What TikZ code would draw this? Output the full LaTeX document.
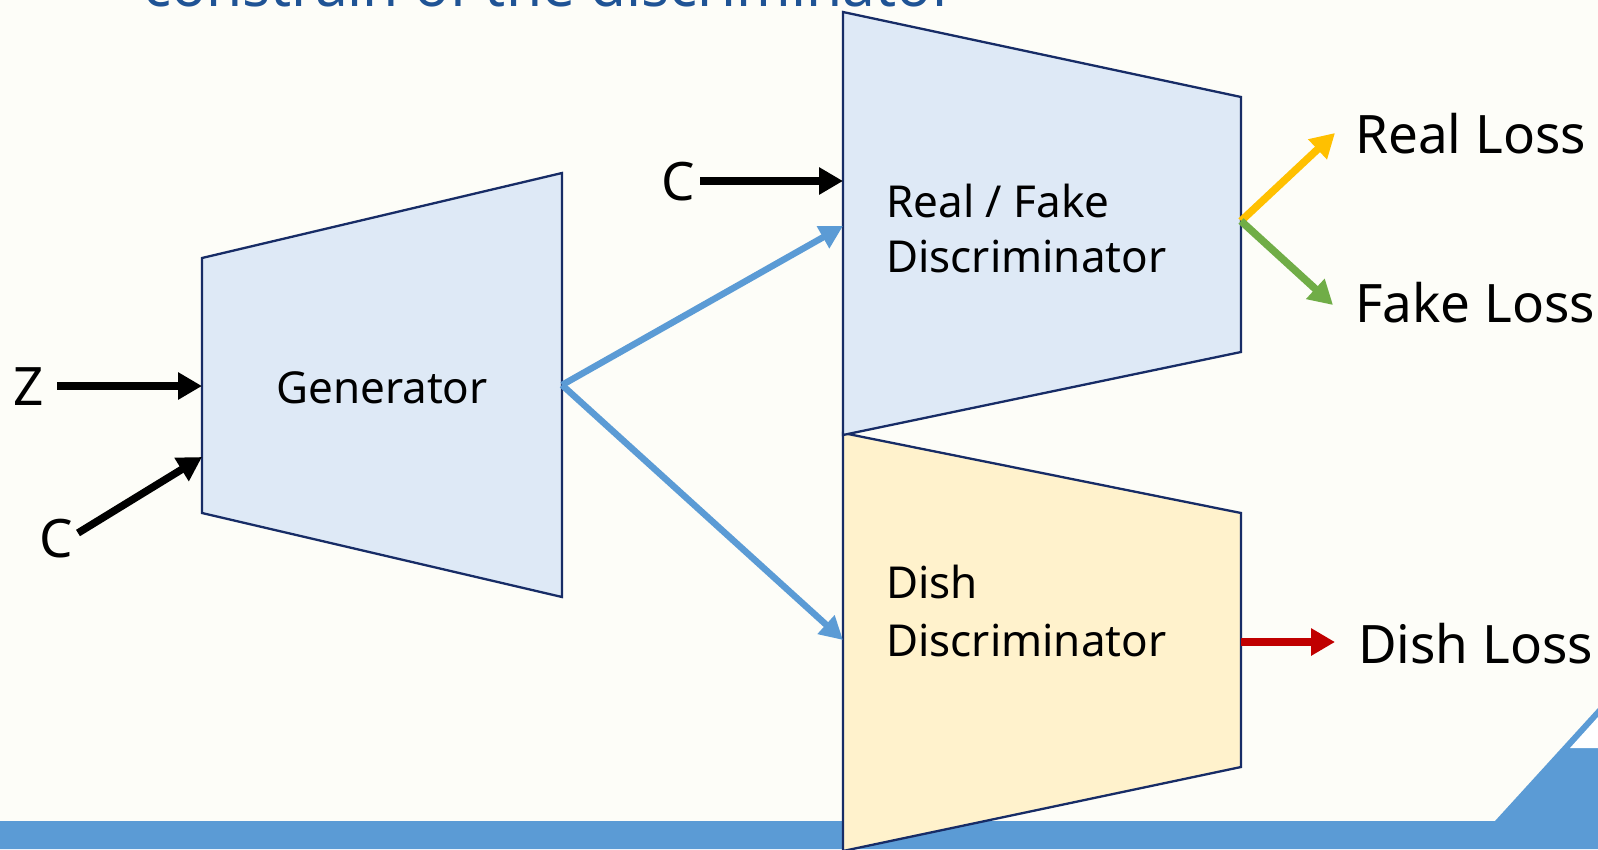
\documentclass[tikz,border=0pt]{standalone}
\usepackage{fontspec}
\setmainfont{Noto Sans}
\usetikzlibrary{arrows.meta}
\definecolor{bg}{HTML}{FDFDF8}
\definecolor{barblue}{HTML}{5B9BD5}
\definecolor{boxblue}{HTML}{DEE9F6}
\definecolor{boxyellow}{HTML}{FFF2CC}
\definecolor{edgeblue}{HTML}{172C66}
\definecolor{titleblue}{HTML}{1F5395}
\definecolor{ygold}{HTML}{FFC000}
\definecolor{lgreen}{HTML}{70AD47}
\definecolor{dred}{HTML}{C00000}
\begin{document}
\begin{tikzpicture}[x=1pt,y=-1pt,
  trap/.style={draw=edgeblue, line width=2.3pt, line join=miter},
  bigtxt/.style={inner sep=0pt, font=\fontsize{53}{60}\selectfont},
  boxtxt/.style={inner sep=0pt, anchor=base west, font=\fontsize{44}{52}\selectfont},
  blackarrow/.style={draw=black, line width=7.5pt, -{Triangle[length=24pt,width=26pt]}},
  bluearrow/.style={draw=barblue, line width=6.5pt, -{Triangle[length=23pt,width=24pt]}},
  colarrow/.style={line width=7.5pt, -{Triangle[length=24pt,width=26pt]}}
]
\useasboundingbox (0,0) rectangle (1598,849);
\clip (0,0) rectangle (1598,849);
\fill[bg] (0,0) rectangle (1598,849);

% title (cut off at top, as in the reference)
\node[anchor=base west, inner sep=0pt, text=titleblue, font=\fontsize{58.5}{66}\selectfont] (title) at (143,6) {constrain of the discriminator};

% bottom decoration
\fill[barblue] (0,821) -- (1495,821) -- (1598,708) -- (1598,849) -- (0,849) -- cycle;
\fill[white] (1570,748) -- (1598,748) -- (1598,717) -- cycle;

% trapezoids
\draw[trap, fill=boxblue] (202,258) -- (562,173) -- (562,597) -- (202,513) -- cycle;
\draw[trap, fill=boxyellow] (843,433) -- (1241,513) -- (1241,767) -- (843,851) -- cycle;
\draw[trap, fill=boxblue] (843,12) -- (1241,97) -- (1241,352) -- (843,435) -- cycle;

% named connection points
\coordinate (genInZ) at (202,386);
\coordinate (genInC) at (202,457);
\coordinate (genOut) at (562,385);
\coordinate (rfInC) at (843,181);
\coordinate (rfInG) at (843,226);
\coordinate (rfOut) at (1241,221);
\coordinate (dishIn) at (843,640);
\coordinate (dishOut) at (1241,642);

% texts
\node[boxtxt] (gentxt) at (276,403) {Generator};
\node[boxtxt] (rftxt1) at (886,217) {Real / Fake};
\node[boxtxt] (rftxt2) at (886,272) {Discriminator};
\node[boxtxt] (dishtxt1) at (886,598) {Dish};
\node[boxtxt] (dishtxt2) at (886,656) {Discriminator};

\node[bigtxt] (z) at (29,387) {Z};
\node[bigtxt] (c1) at (56,539) {C};
\node[bigtxt] (c2) at (678,182) {C};
\node[bigtxt, anchor=base west] (realloss) at (1355,153) {Real Loss};
\node[bigtxt, anchor=base west] (fakeloss) at (1355,322) {Fake Loss};
\node[bigtxt, anchor=base west] (dishloss) at (1358,663) {Dish Loss};

\coordinate (zEnd) at (57,386);
\coordinate (c1End) at (78,533);
\coordinate (c2End) at (700,181);
\coordinate (realTip) at (1335,133);
\coordinate (fakeTip) at (1333,305);
\coordinate (dishTip) at (1335,642);

% connectors
\draw[blackarrow] (zEnd) -- (genInZ);
\draw[blackarrow] (c1End) -- (genInC);
\draw[blackarrow] (c2End) -- (rfInC);
\draw[bluearrow] (genOut) -- (rfInG);
\draw[bluearrow] (genOut) -- (dishIn);
\draw[colarrow, draw=ygold] (rfOut) -- (realTip);
\draw[colarrow, draw=lgreen] (rfOut) -- (fakeTip);
\draw[colarrow, draw=dred] (dishOut) -- (dishTip);
\end{tikzpicture}
\end{document}
